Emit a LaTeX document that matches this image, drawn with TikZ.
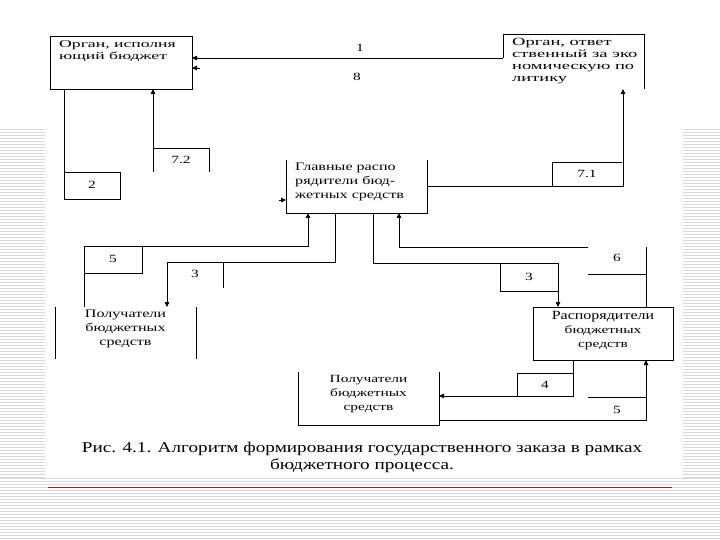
\documentclass[tikz,border=0pt]{standalone}
\usepackage{fontspec}
\setmainfont{Liberation Serif}[FakeStretch=1.28]
\newfontfamily\scanfont{Liberation Serif}[FakeStretch=1.4]
\newfontfamily\widefont{Liberation Serif}[FakeStretch=1.68]
\usetikzlibrary{positioning,arrows.meta,calc}
\definecolor{rule}{RGB}{150,40,40}

\begin{document}
\begin{tikzpicture}[
    x=1pt,
    y=-1pt,
    font=\scanfont\fontsize{10.5}{12}\selectfont,
    box/.style={
        rectangle,
        inner sep=0pt,
        outer sep=0pt
    },
    txt/.style={inner sep=0pt, align=left, anchor=north west},
    ctxt/.style={inner sep=0pt, align=center, anchor=north},
    num/.style={inner sep=0pt, font=\scanfont\fontsize{11}{12}\selectfont},
    edge/.style={line width=0.8pt},
    arrow/.style={edge, -{Triangle[length=5pt, width=4.5pt]}},
    stripe/.style={gray!30, line width=0.8pt}
]

% ============================================================
% TLO
% ============================================================
\useasboundingbox (0,0) rectangle (720,540);
\fill[white] (0,0) rectangle (720,540);
\foreach \y in {129,132,...,477} {
    \draw[stripe] (0,\y) -- (45,\y) (683,\y) -- (720,\y);
}
\foreach \y in {478,481,...,540} {
    \draw[stripe] (0,\y) -- (720,\y);
}

% ============================================================
% BLOKI
% ============================================================
\node[box, minimum width=142pt, minimum height=53pt] (org) at (121,62.5) {};
\node[txt, font=\widefont\fontsize{10.5}{12}\selectfont] (orgtxt) at ([shift={(9,4)}]org.north west)
    {Орган, исполня\\ющий бюджет};
\draw[edge] (org.north west) rectangle (org.south east);

\node[box, minimum width=141pt, minimum height=55pt] (econ) at (573.5,61.5) {};
\node[txt, font=\widefont\fontsize{11}{12}\selectfont] (econtxt) at ([shift={(9,4)}]econ.north west)
    {Орган, ответ\\ственный за эко\\номическую по\\литику};
\draw[edge] (econ.west |- 0,58) -- (econ.north west) -- (econ.north east) -- (econ.south east);

\node[box, minimum width=141pt, minimum height=53pt] (glav) at (356.5,186.5) {};
\node[txt, font=\scanfont\fontsize{11.5}{14}\selectfont] (glavtxt) at ([shift={(9,3)}]glav.north west)
    {Главные распо\\рядители бюд-\\жетных средств};
\draw[edge] (glav.north west) -- (glav.south west) -- (glav.south east) -- (glav.north east);

\node[box, minimum width=141pt, minimum height=52pt] (pol1) at (125.5,333) {};
\node[ctxt, font=\scanfont\fontsize{11.5}{14}\selectfont] (pol1txt) at ([yshift=-3pt]pol1.north)
    {Получатели\\бюджетных\\средств};
\draw[edge] (pol1.north west) -- (pol1.south west) (pol1.north east) -- (pol1.south east);

\node[box, minimum width=140pt, minimum height=53pt] (rasp) at (603,333.5) {};
\node[ctxt, font=\scanfont\fontsize{11}{14}\selectfont] (rasptxt) at ([yshift=-4pt]rasp.north)
    {{\rmfamily\fontsize{12.5}{14}\selectfont Распорядители}\\бюджетных\\средств};
\draw[edge] (rasp.north west) rectangle (rasp.south east);

\node[box, minimum width=141pt, minimum height=53pt] (pol2) at (368.5,398.5) {};
\node[ctxt, font=\scanfont\fontsize{11}{14}\selectfont] (pol2txt) at ([yshift=-3pt]pol2.north)
    {Получатели\\бюджетных\\средств};
\draw[edge] (pol2.north west) -- (pol2.south west) -- (pol2.south east) -- (pol2.north east);

% ============================================================
% POLACZENIA
% ============================================================
% 1 i 8
\draw[arrow] (econ.west |- 0,58) -- (org.east |- 0,58);
\node[num] (n1) at (360,48) {1};
\draw[arrow] ($(org.east |- 0,68)+(8,0)$) -- (org.east |- 0,68);
\node[num] (n8) at (357,77) {8};

% 2
\draw[edge] (org.south -| 64,0) -- (64,199) -- (120,199) -- (120,172) -- (64,172);
\node[num] (n2) at (92,185) {2};
\draw[arrow] ($(glav.west |- 0,200)-(7,0)$) -- (glav.west |- 0,200);

% 7.2
\coordinate (c72) at (153,172);
\draw[arrow] (c72) -- (org.south -| c72);
\draw[edge] (153,148) -- (209,148) -- (209,172);
\node[num] (n72) at (181,160) {7.2};

% 7.1
\draw[arrow] (glav.east |- 0,186) -| (econ.south -| 623,0);
\draw[edge] (552,186) -- (552,162) -- (622,162);
\node[num] (n71) at (587,174) {7.1};

% 5 (gora)
\draw[arrow] (pol1.north -| 84,0) -- (84,246) -| (glav.south -| 308,0);
\draw[edge] (142,246) -- (142,273) -- (84,273);
\node[num] (n5a) at (113,259) {5};

% 3 (lewo)
\draw[arrow] (glav.south -| 335,0) |- (167,262) -- (pol1.north -| 167,0);
\draw[edge] (223,262) -- (223,288);
\node[num] (n3a) at (195,274) {3};

% 3 (prawo)
\draw[arrow] (glav.south -| 373,0) |- (558,263) -- (rasp.north -| 558,0);
\draw[edge] (500,263) -- (500,291) -- (558,291);
\node[num] (n3b) at (529,277) {3};

% 6
\coordinate (c6) at (588,247);
\draw[edge] (rasp.north -| 646,0) -- (646,247);
\draw[arrow] (c6) -| (glav.south -| 399,0);
\draw[edge] (588,274) -- (646,274);
\node[num] (n6) at (617,258) {6};

% 4
\draw[arrow] (rasp.south -| 573,0) |- (pol2.east |- 0,396);
\draw[edge] (517,396) -- (517,373) -- (573,373);
\node[num] (n4) at (545,385) {4};

% 5 (dol)
\draw[arrow] (pol2.east |- 0,420) -| (rasp.south -| 646,0);
\draw[edge] (588,397) -- (646,397);
\node[num] (n5b) at (617,410) {5};

% ============================================================
% PODPIS
% ============================================================
\node[align=center, font=\fontsize{15}{17}\selectfont] (caption) at (362,457)
    {Рис. 4.1. Алгоритм формирования государственного заказа в рамках\\бюджетного процесса.};
\draw[rule, line width=1pt] (48,487) -- (672,487);

\end{tikzpicture}
\end{document}
